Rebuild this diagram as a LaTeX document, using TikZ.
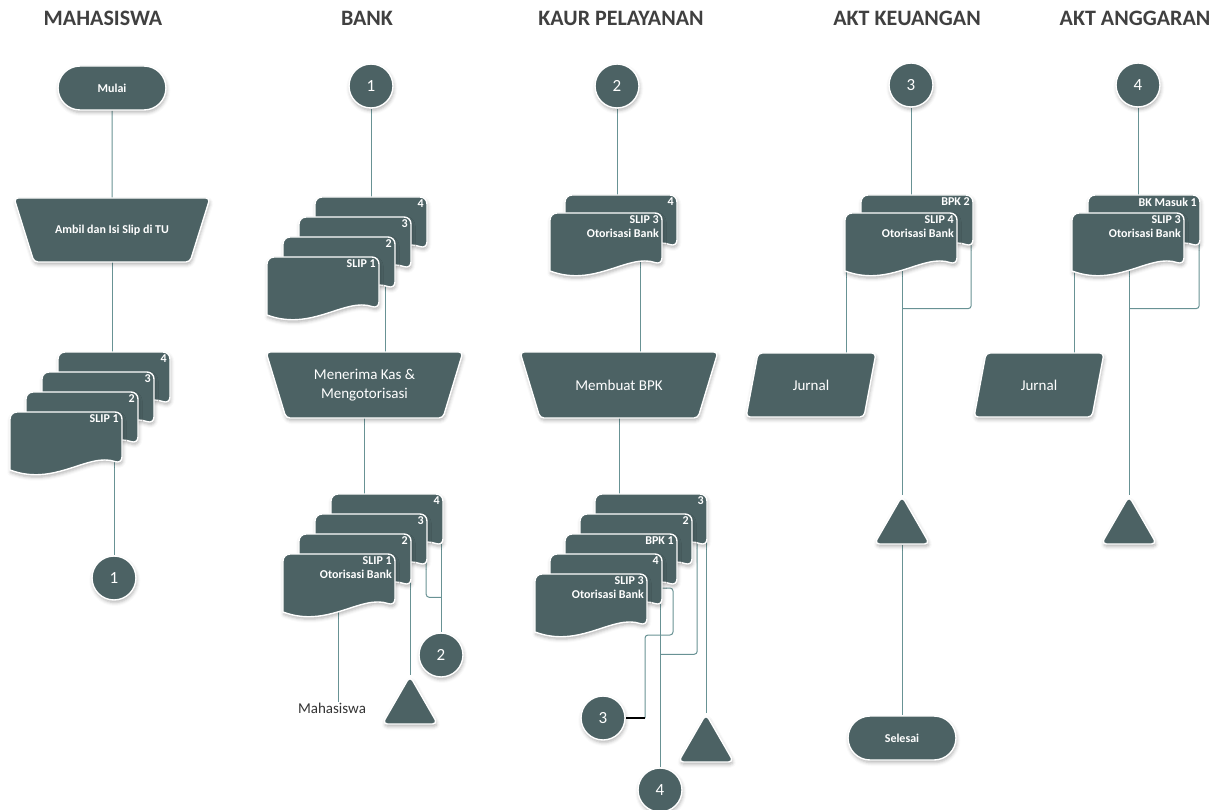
\documentclass[tikz,border=0pt]{standalone}
\usepackage{fontspec}
\setmainfont{Carlito}
\usetikzlibrary{calc,shapes.misc,shapes.geometric,shadows.blur,backgrounds}

\definecolor{slate}{RGB}{76,98,100}
\definecolor{wire}{RGB}{104,146,148}
\definecolor{hdr}{RGB}{64,64,64}

\tikzset{
  shapebase/.style={fill=slate, draw=white, line width=1.4pt,
    blur shadow={shadow xshift=0.8pt, shadow yshift=-2.5pt, shadow blur radius=3.5pt, shadow opacity=30}},
  wire/.style={draw=wire, line width=1pt, rounded corners=3pt},
  header/.style={text=hdr, font=\bfseries\fontsize{22}{26}\selectfont},
  terminal/.style={shapebase, rounded rectangle, minimum width=108pt, minimum height=44pt,
    inner sep=0pt, text=white, font=\bfseries\fontsize{12}{14}\selectfont},
  conn/.style={shapebase, circle, minimum size=44pt, inner sep=0pt, text=white,
    font=\fontsize{17}{19}\selectfont},
  store/.style={shapebase, regular polygon, regular polygon sides=3, minimum size=64pt,
    inner sep=0pt, rounded corners=5pt},
  proctext/.style={text=white, align=center, inner sep=0pt},
  bigtext/.style={proctext, font=\fontsize{15}{19}\selectfont},
  docbox/.style={rectangle, minimum width=112pt, minimum height=56pt, inner sep=0pt},
  doclabel/.style={text=white, align=right, inner sep=1pt, font=\bfseries\fontsize{12}{13.5}\selectfont},
}

% document symbol: name, left x, top y, label
\newcommand\flowdoc[4]{%
  \path[shapebase] (#2,#3+30) [rounded corners=7pt] -- (#2,#3) -- (#2+112,#3) -- (#2+112,#3+52)
    [sharp corners] .. controls (#2+78,#3+40) and (#2+45,#3+75) .. (#2,#3+58) -- cycle;
  \node[docbox, anchor=north west] (#1) at (#2,#3) {};
  \node[doclabel, anchor=north east] (#1-t) at (#2+110,#3+1.5) {#4};
}

\begin{document}
\begin{tikzpicture}[x=1pt,y=-1pt]
\useasboundingbox (0,0) rectangle (1221,810);

% lane titles
\node[header] (h1) at (103,18) {MAHASISWA};
\node[header] (h2) at (367,18) {BANK};
\node[header] (h3) at (621,18) {KAUR PELAYANAN};
\node[header] (h4) at (907,18) {AKT KEUANGAN};
\node[header] (h5) at (1135,18) {AKT ANGGARAN};

% ---- Mahasiswa
\node[terminal] (mulai) at (112,88) {Mulai};
\path[shapebase, rounded corners=4pt] (14,198) -- (210,198) -- (190,262) -- (34,262) -- cycle;
\node[proctext, font=\bfseries\fontsize{12}{14}\selectfont] (ambil) at (112,230) {Ambil dan Isi Slip di TU};
\flowdoc{m4}{58}{352}{4}
\flowdoc{m3}{42}{372}{3}
\flowdoc{m2}{26}{392}{2}
\flowdoc{m1}{10}{412}{SLIP 1}
\node[conn] (cm1) at (114,578) {1};

% ---- Bank
\node[conn] (cb1) at (371,86) {1};
\flowdoc{b4}{315}{197}{4}
\flowdoc{b3}{299}{217}{3}
\flowdoc{b2}{283}{237}{2}
\flowdoc{b1}{267}{257}{SLIP 1}
\path[shapebase, rounded corners=4pt] (266,352) -- (463,352) -- (443,418) -- (286,418) -- cycle;
\node[bigtext] (bproc) at (364.5,385) {Menerima Kas \&\\Mengotorisasi};
\flowdoc{bb4}{331}{494}{4}
\flowdoc{bb3}{315}{514}{3}
\flowdoc{bb2}{299}{534}{2}
\flowdoc{bb1}{283}{554}{SLIP 1\\Otorisasi Bank}
\node[conn] (cb2) at (441,655) {2};
\node[store] (btri) at (410,708) {};
\node[text=black!80, font=\fontsize{15}{17}\selectfont, inner sep=1pt] (mhs) at (332,708) {Mahasiswa};

% ---- Kaur Pelayanan
\node[conn] (ck2) at (617,86) {2};
\flowdoc{k4}{565}{195}{4}
\flowdoc{k1}{550}{213}{SLIP 3\\Otorisasi Bank}
\path[shapebase, rounded corners=4pt] (520,352) -- (718,352) -- (698,418) -- (540,418) -- cycle;
\node[bigtext] (kproc) at (619,385) {Membuat BPK};
\flowdoc{kk3}{595}{494}{3}
\flowdoc{kk2}{580}{514}{2}
\flowdoc{kb1}{565}{534}{BPK 1}
\flowdoc{kk4}{550}{554}{4}
\flowdoc{ks3}{535}{574}{SLIP 3\\Otorisasi Bank}
\node[conn] (ck3) at (603,718) {3};
\node[conn] (ck4) at (660,790) {4};
\node[store] (ktri) at (706,746) {};

% ---- Akt Keuangan
\node[conn] (cr3) at (911,85) {3};
\flowdoc{a2}{861}{195}{BPK 2}
\flowdoc{a1}{845}{213}{SLIP 4\\Otorisasi Bank}
\path[shapebase, rounded corners=4pt] (758,353) -- (876,353) -- (864,417) -- (746,417) -- cycle;
\node[bigtext] (jur1) at (811,385) {Jurnal};
\node[store] (atri) at (902,528) {};
\node[terminal] (selesai) at (902,738) {Selesai};

% ---- Akt Anggaran
\node[conn] (cr4) at (1138,85) {4};
\flowdoc{g2}{1088}{195}{BK Masuk 1}
\flowdoc{g1}{1072}{213}{SLIP 3\\Otorisasi Bank}
\path[shapebase, rounded corners=4pt] (986,353) -- (1104,353) -- (1092,417) -- (974,417) -- cycle;
\node[bigtext] (jur2) at (1039,385) {Jurnal};
\node[store] (gtri) at (1129,528) {};

% ---- connectors, kept behind the symbols
\begin{scope}[on background layer]
  \draw[wire] (mulai) -- (ambil);
  \draw[wire] (ambil.south) -- (ambil.south |- m4.center);
  \draw[wire] (cm1.north) -- (cm1.north |- m1.center);

  \draw[wire] (cb1) -- (cb1 |- b4.center);
  \draw[wire] ([xshift=20.5pt]bproc.north) coordinate (t) -- (t |- b2.center);
  \draw[wire] (bproc.south) -- (bproc.south |- bb4.center);
  \draw[wire] ([xshift=-1pt]bb1.center) coordinate (t) -- (t |- mhs.north);
  \draw[wire] (btri.north) -- (btri.north |- bb2.center);
  \draw[wire] (cb2.north) -- (cb2.north |- bb4.center);
  \draw[wire] ([xshift=55pt]bb3.center) |- ($(cb2.north)+(0,-35)$);

  \draw[wire] (ck2) -- (ck2 |- k4.center);
  \draw[wire] ([xshift=21pt]kproc.north) coordinate (t) -- (t |- k1.center);
  \draw[wire] (kproc.south) -- (kproc.south |- kk3.center);
  \draw[wire] (ktri.north) -- (ktri.north |- kk3.center);
  \draw[wire] ([xshift=46pt]kk3.center) |- ($(ck4.north)+(0,-113)$);
  \draw[wire] (ck4.north) -- (ck4.north |- kk4.center);
  \coordinate (j1) at (660,588);
  \coordinate (j2) at (645,718);
  \draw[wire] (j1) -| ++(13,47) -| (j2);
  \draw[black, line width=1.3pt] (j2) -- (ck3.east);

  \draw[wire] (cr3) -- (cr3 |- a2.center);
  \draw[wire] ([xshift=35pt]jur1.north) coordinate (t) -- (t |- a1.center);
  \draw[wire] (atri.north) -- (atri.north |- a1.center);
  \draw[wire] ([xshift=54pt]a2.center) |- ($(atri.north)+(0,-186)$);
  \draw[wire] (atri.south) -- (selesai.north);

  \draw[wire] (cr4) -- (cr4 |- g2.center);
  \draw[wire] ([xshift=35pt]jur2.north) coordinate (t) -- (t |- g1.center);
  \draw[wire] (gtri.north) -- (gtri.north |- g1.center);
  \draw[wire] ([xshift=55pt]g2.center) |- ($(gtri.north)+(0,-186)$);
\end{scope}
\end{tikzpicture}
\end{document}
